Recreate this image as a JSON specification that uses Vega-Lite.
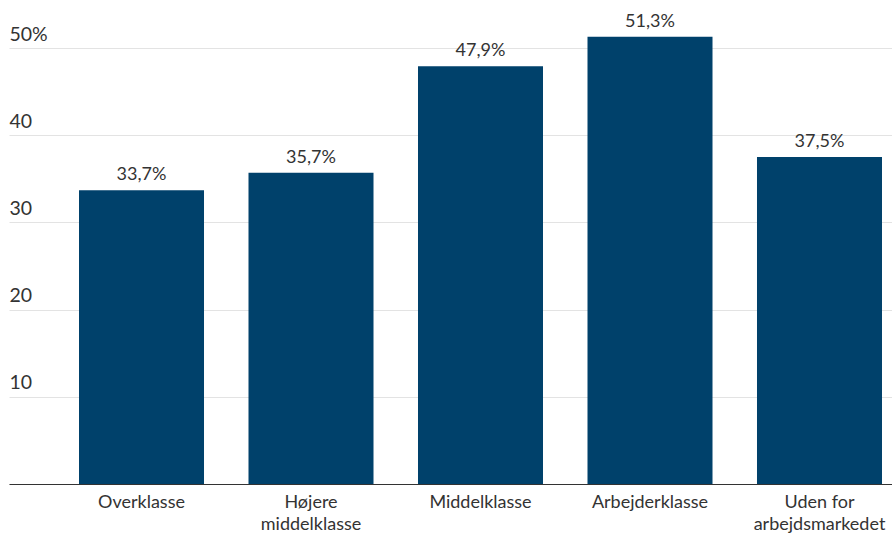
{
  "$schema": "https://vega.github.io/schema/vega-lite/v6.json",
  "width": 883,
  "height": 436,
  "autosize": "none",
  "padding": {"left": 9, "top": 48, "right": 0, "bottom": 50},
  "background": "white",
  "config": {
    "view": {"stroke": null},
    "font": "Lato",
    "axis": {"labelFont": "Lato", "labelColor": "#333333", "titleFont": "Lato"}
  },
  "data": {
    "values": [
      {"klasse": "Overklasse", "andel": 33.7, "label": "33,7%"},
      {"klasse": "Højere middelklasse", "andel": 35.7, "label": "35,7%"},
      {"klasse": "Middelklasse", "andel": 47.9, "label": "47,9%"},
      {"klasse": "Arbejderklasse", "andel": 51.3, "label": "51,3%"},
      {"klasse": "Uden for arbejdsmarkedet", "andel": 37.5, "label": "37,5%"}
    ]
  },
  "encoding": {
    "x": {
      "field": "klasse",
      "type": "nominal",
      "sort": null,
      "title": null,
      "scale": {"paddingInner": 0.2625, "paddingOuter": 0.236, "align": 0.875},
      "axis": {
        "labelAngle": 0,
        "labelFontSize": 18,
        "labelPadding": 9,
        "labelLineHeight": 22,
        "ticks": false,
        "domainColor": "#333333",
        "domainWidth": 1.2,
        "labelExpr": "datum.label == 'Højere middelklasse' ? ['Højere', 'middelklasse'] : datum.label == 'Uden for arbejdsmarkedet' ? ['Uden for', 'arbejdsmarkedet'] : datum.label"
      }
    },
    "y": {
      "field": "andel",
      "type": "quantitative",
      "title": null,
      "scale": {"domain": [0, 50], "nice": false},
      "axis": {
        "values": [0, 10, 20, 30, 40, 50],
        "ticks": false,
        "domain": false,
        "gridColor": "#e3e3e3",
        "labelAlign": "left",
        "labelBaseline": "alphabetic",
        "labelFlush": false,
        "labelPadding": 0,
        "labelDx": -1,
        "labelOffset": -8,
        "labelFontSize": 19.5,
        "labelExpr": "datum.value == 0 ? '' : datum.value == 50 ? '50%' : datum.label"
      }
    }
  },
  "layer": [
    {"mark": {"type": "bar", "color": "#00416b"}},
    {
      "mark": {"type": "text", "baseline": "bottom", "dy": -6, "fontSize": 18, "color": "#333333"},
      "encoding": {"text": {"field": "label"}}
    }
  ]
}
